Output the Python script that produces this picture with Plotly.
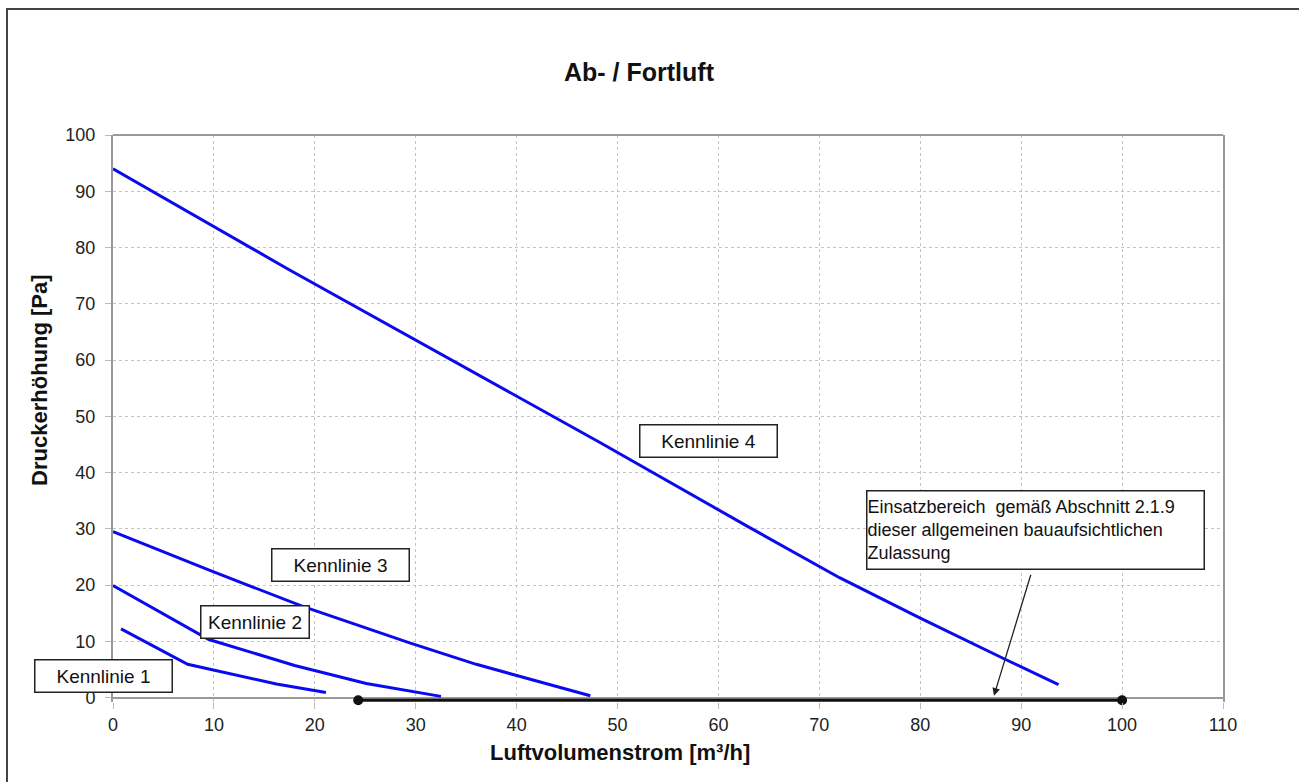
import plotly.graph_objects as go

# ---- data ----
x_ticks = list(range(0, 111, 10))
y_ticks = list(range(0, 101, 10))

k1_x = [0.8, 7.4, 16.2, 21.1]
k1_y = [12.2, 5.9, 2.4, 0.9]

k2_x = [0.0, 9.5, 18.0, 25.1, 32.5]
k2_y = [19.9, 10.3, 5.7, 2.5, 0.2]

k3_x = [0.0, 9.6, 18.8, 29.4, 36.0, 47.3]
k3_y = [29.5, 22.6, 16.2, 9.7, 5.9, 0.3]

k4_x = [0.0, 10.0, 17.5, 48.3, 63.1, 72.0, 80.0, 88.4, 93.7]
k4_y = [94.0, 83.7, 76.0, 45.3, 30.2, 21.3, 14.1, 6.8, 2.3]

range_x = [24.3, 100.0]
range_y = [-0.5, -0.5]

label_names = ["Kennlinie 1", "Kennlinie 2", "Kennlinie 3", "Kennlinie 4"]
label_x = [-0.97, 14.1, 22.57, 59.05]
label_y = [3.91, 13.45, 23.47, 45.58]
label_w = [136, 107, 136, 136]

note_text = ("Einsatzbereich  gemäß Abschnitt 2.1.9<br>"
             "dieser allgemeinen bauaufsichtlichen<br>"
             "Zulassung")
note_x, note_y = 91.45, 29.75
arrow_tail = (91.0, 22.1)
arrow_head = (87.3, 0.3)

FONT = "Liberation Sans, Arial, sans-serif"
BLUE = "rgb(10,10,240)"

X_MAX = 110.0
Y_MIN, Y_MAX = -0.8, 100.0

fig = go.Figure()
for xs, ys in [(k1_x, k1_y), (k2_x, k2_y), (k3_x, k3_y), (k4_x, k4_y)]:
    fig.add_trace(go.Scatter(x=xs, y=ys, mode="lines",
                             line=dict(color=BLUE, width=3),
                             showlegend=False, hoverinfo="skip"))

fig.add_trace(go.Scatter(x=range_x, y=range_y, mode="lines+markers",
                         line=dict(color="#111", width=3),
                         marker=dict(color="#111", size=10),
                         cliponaxis=False, showlegend=False,
                         hoverinfo="skip"))

annotations = []
for name, lx, ly, w in zip(label_names, label_x, label_y, label_w):
    # paper coordinates so that labels partly outside the axes stay visible
    annotations.append(dict(
        x=lx / X_MAX, y=(ly - Y_MIN) / (Y_MAX - Y_MIN),
        xref="paper", yref="paper", xanchor="center", yanchor="middle",
        text=name, showarrow=False,
        font=dict(family=FONT, size=19, color="#111"),
        bgcolor="white", bordercolor="#222", borderwidth=1.5,
        borderpad=0, width=w, height=31, align="center"))

annotations.append(dict(
    x=note_x, y=note_y, xref="x", yref="y", text=note_text,
    xanchor="center", yanchor="middle",
    showarrow=False, align="left",
    font=dict(family=FONT, size=18, color="#111"),
    bgcolor="white", bordercolor="#222", borderwidth=1.5,
    borderpad=0, width=336, height=77))

annotations.append(dict(
    x=arrow_head[0], y=arrow_head[1], ax=arrow_tail[0], ay=arrow_tail[1],
    xref="x", yref="y", axref="x", ayref="y", text="",
    showarrow=True, arrowhead=2, arrowsize=1.2, arrowwidth=1.3,
    arrowcolor="#222"))

# axis titles
annotations.append(dict(
    x=0.4568, y=-0.0882, xref="paper", yref="paper",
    text="Luftvolumenstrom [m³/h]", showarrow=False,
    xanchor="center", yanchor="middle",
    font=dict(family=FONT, size=22, color="#111", weight="bold")))
annotations.append(dict(
    x=-0.0658, y=0.568, xref="paper", yref="paper",
    text="Druckerhöhung [Pa]", showarrow=False, textangle=-90,
    xanchor="center", yanchor="middle",
    font=dict(family=FONT, size=22, color="#111", weight="bold")))

shapes = [
    # top border of plot area
    dict(type="line", xref="paper", yref="paper", x0=0, x1=1, y0=1, y1=1,
         line=dict(color="#999", width=2)),
    # outer frame
    dict(type="rect", xref="paper", yref="paper", x0=-0.0955, x1=1.3,
         y0=-0.3, y1=1.2222, line=dict(color="#444", width=2),
         layer="below"),
]

fig.update_layout(
    width=1299, height=782,
    margin=dict(l=113, r=76, t=135, b=80),
    paper_bgcolor="white", plot_bgcolor="white",
    title=dict(text="Ab- / Fortluft", x=0.4919, y=0.9079,
               xanchor="center", yanchor="middle",
               font=dict(family=FONT, size=25, color="#111",
                         weight="bold")),
    annotations=annotations, shapes=shapes,
    showlegend=False,
)

fig.update_xaxes(
    range=[0, X_MAX], tickvals=x_ticks, ticktext=[str(v) for v in x_ticks],
    showgrid=True, gridcolor="#c4c4c4", griddash="dot", gridwidth=1.2,
    showline=False, zeroline=False,
    ticks="outside", ticklen=6, tickcolor="#bbb",
    tickfont=dict(family=FONT, size=18, color="#222"),
    ticklabelstandoff=0,
)
fig.update_yaxes(
    range=[Y_MIN, Y_MAX], tickvals=y_ticks, ticktext=[str(v) for v in y_ticks],
    showgrid=True, gridcolor="#c4c4c4", griddash="dot", gridwidth=1.2,
    zeroline=True, zerolinecolor="#999", zerolinewidth=1.5,
    showline=True, mirror=True, linecolor="#999", linewidth=2,
    ticks="outside", ticklen=6, tickcolor="#bbb",
    tickfont=dict(family=FONT, size=18, color="#222"),
    ticklabelstandoff=6,
)

fig.write_html("out.html",
               config={"displayModeBar": False},
               post_script="document.body.style.margin='0';"
                           "document.body.style.overflow='hidden';")
